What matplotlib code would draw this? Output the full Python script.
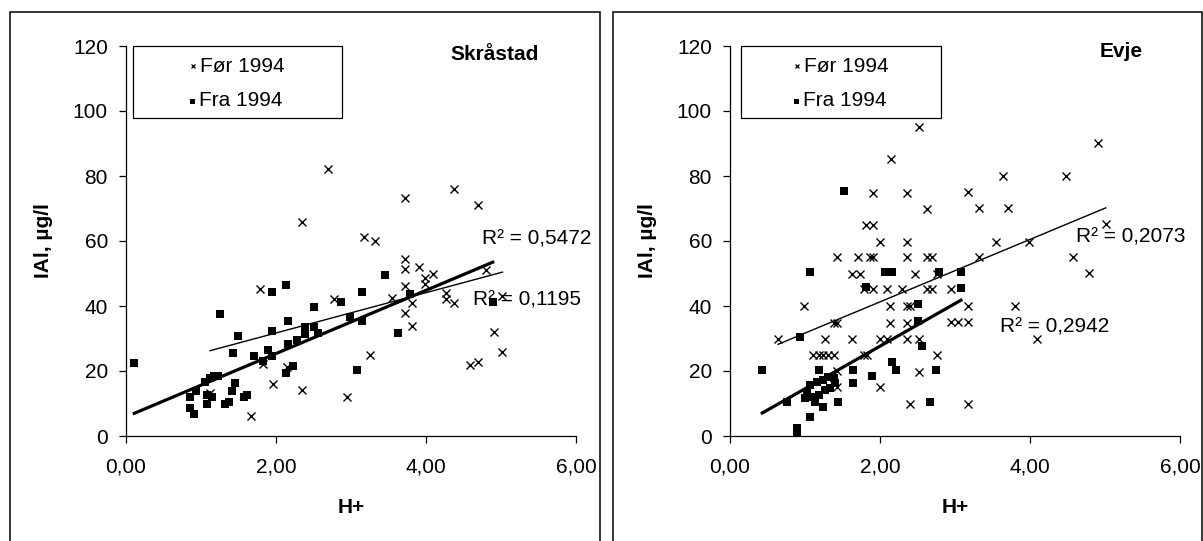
import matplotlib
matplotlib.use("Agg")
import matplotlib.pyplot as plt
import numpy as np
from matplotlib.patches import Rectangle

plt.rcParams['font.family'] = ['Liberation Sans', 'DejaVu Sans']

# ---- Skråstad ----
skr_for_x = [2.69, 2.35, 1.78, 2.77, 1.83, 2.14, 1.96, 2.35, 1.66, 2.95, 1.12,
             3.72, 4.37, 4.69, 3.17, 3.32, 3.72, 3.72, 3.90, 4.09, 3.99, 3.99,
             3.72, 3.55, 3.81, 4.27, 4.27, 4.37, 3.72, 3.81, 4.80, 5.02, 4.90,
             5.02, 4.58, 4.69, 3.25]
skr_for_y = [82.2, 65.8, 45.1, 42.2, 22.1, 21.3, 15.9, 14.3, 6.2, 12.1, 13.3,
             73.1, 76.1, 71.1, 61.1, 59.9, 54.4, 51.3, 52.1, 49.9, 48.5, 46.9,
             46.2, 42.4, 40.8, 43.9, 42.2, 40.8, 37.9, 33.9, 51.1, 43.1, 31.9,
             25.8, 21.8, 22.9, 25.0]
skr_fra_x = [0.11, 1.25, 1.94, 2.13, 2.50, 2.87, 2.99, 2.16, 1.94, 1.49, 1.43,
             1.71, 1.89, 1.94, 1.83, 2.16, 2.28, 2.39, 2.39, 2.50, 2.56, 2.13,
             2.22, 0.85, 0.85, 0.91, 0.93, 1.05, 1.12, 1.17, 1.22, 1.08, 1.14,
             1.08, 1.32, 1.37, 1.41, 1.45, 1.57, 1.61, 3.45, 3.15, 3.15, 3.79,
             4.89, 3.62, 3.08]
skr_fra_y = [22.6, 37.5, 44.4, 46.6, 39.7, 41.3, 36.7, 35.4, 32.4, 30.8, 25.5,
             24.7, 26.5, 24.7, 23.2, 28.4, 29.4, 33.6, 31.3, 33.6, 31.6, 19.5,
             21.5, 11.9, 8.5, 6.7, 13.7, 16.7, 17.9, 18.6, 18.6, 12.6, 11.9,
             9.8, 9.8, 10.6, 13.9, 16.2, 12.1, 12.6, 49.5, 44.4, 35.5, 43.6,
             41.3, 31.6, 20.3]
skr_for_fit = (6.2, 19.3)    # slope, intercept
skr_fra_fit = (9.73, 5.9)
skr_r2 = ["0,1195", "0,5472"]

# ---- Evje ----
evj_for_x = [2.15, 1.90, 2.36, 2.63, 1.81, 1.90, 2.00, 2.36, 1.42, 1.70, 1.86,
             1.91, 2.36, 2.62, 2.69, 1.63, 1.73, 2.47, 1.78, 1.90, 2.09, 2.29,
             2.62, 2.69, 0.98, 2.13, 2.36, 2.40, 1.38, 1.42, 2.13, 2.36, 0.64,
             1.27, 1.63, 2.00, 2.09, 2.36, 2.52, 1.11, 1.18, 1.24, 1.31, 1.38,
             1.78, 1.82, 2.76, 1.42, 2.52, 2.00, 1.42, 2.40,
             2.52, 4.90, 3.64, 4.48, 3.17, 3.32, 3.71, 3.54, 3.99, 5.01, 4.57,
             4.79, 3.32, 2.76, 2.95, 3.17, 3.80, 2.95, 3.04, 3.17, 4.09, 3.17]
evj_for_y = [85.1, 74.9, 74.9, 70.0, 64.9, 64.9, 59.8, 59.8, 55.0, 55.0, 55.0,
             55.0, 55.0, 55.0, 55.0, 50.0, 50.0, 50.0, 45.1, 45.1, 45.1, 45.1,
             45.1, 45.1, 40.0, 40.0, 40.0, 40.0, 34.9, 34.9, 34.9, 34.9, 30.0,
             30.0, 30.0, 30.0, 30.0, 30.0, 30.0, 25.0, 25.0, 25.0, 25.0, 25.0,
             25.0, 25.0, 25.0, 20.0, 19.8, 15.0, 15.0, 9.8,
             95.2, 90.1, 80.0, 80.0, 75.0, 70.2, 70.2, 59.8, 59.8, 65.1, 55.2,
             50.1, 55.0, 50.0, 45.2, 40.0, 40.0, 35.0, 35.0, 35.0, 30.0, 9.8]
evj_fra_x = [0.43, 0.76, 0.93, 0.89, 0.89, 1.06, 1.06, 1.52, 1.81, 2.06, 2.16,
             1.89, 1.64, 1.64, 1.44, 1.24, 1.19, 2.16, 2.21, 2.50, 2.50, 2.56,
             2.67, 2.75, 2.78, 3.08, 3.08, 1.07, 1.16, 1.24, 1.31, 1.38, 1.40,
             1.02, 1.09, 1.18, 1.27, 1.33, 1.00, 1.13]
evj_fra_y = [20.3, 10.6, 30.6, 2.4, 0.8, 50.4, 5.7, 75.4, 45.9, 50.4, 50.4,
             18.6, 20.3, 16.2, 10.6, 8.8, 20.3, 22.7, 20.3, 40.5, 35.4, 27.7,
             10.6, 20.3, 50.4, 50.4, 45.6, 15.7, 16.7, 17.2, 18.2, 17.7, 16.2,
             13.1, 12.1, 12.6, 14.2, 14.7, 11.6, 10.6]
evj_for_fit = (9.61, 22.05)
evj_fra_fit = (13.1, 1.44)
evj_r2 = ["0,2073", "0,2942"]

W, H = 1203, 541
FS = 15


def px_box(x0, x1, y_top, y_bot):
    return [x0 / W, 1 - y_bot / H, (x1 - x0) / W, (y_bot - y_top) / H]


def draw_panel(ax, name, name_pos, for_x, for_y, fra_x, fra_y,
               for_fit, fra_fit, r2, r2_pos, legend_x):
    ax.plot(for_x, for_y, 'x', color='black', ms=5.2, mew=1.0, clip_on=False)
    ax.plot(fra_x, fra_y, 's', color='black', ms=5.4, mew=0, clip_on=False)

    # trendlines over each series' range
    xs = np.array([min(for_x), max(for_x)])
    ax.plot(xs, for_fit[0] * xs + for_fit[1], color='black', lw=1.0)
    xs = np.array([min(fra_x), max(fra_x)])
    ax.plot(xs, fra_fit[0] * xs + fra_fit[1], color='black', lw=2.3)

    ax.set_xlim(0, 6)
    ax.set_ylim(0, 120)
    ax.set_xticks([0, 2, 4, 6])
    ax.set_xticklabels(["0,00", "2,00", "4,00", "6,00"])
    ax.set_yticks(range(0, 121, 20))
    for s in ['top', 'right']:
        ax.spines[s].set_visible(False)
    for s in ['left', 'bottom']:
        ax.spines[s].set_linewidth(0.9)
    ax.tick_params(axis='both', direction='out', length=5, width=0.9,
                   labelsize=FS)
    ax.tick_params(axis='x', pad=10.5)
    ax.tick_params(axis='y', pad=8)

    ax.text(-0.184, 0.5, "IAl, µg/l", transform=ax.transAxes, rotation=90,
            ha='center', va='center', fontsize=FS, fontweight='bold')
    ax.text(0.5, -0.183, "H+", transform=ax.transAxes, ha='center',
            va='center', fontsize=FS, fontweight='bold')
    ax.text(name_pos[0], name_pos[1], name, ha='center', va='center',
            fontsize=FS, fontweight='bold')

    for txt, (tx, ty) in zip(r2, r2_pos):
        ax.text(tx, ty, "R² = " + txt, ha='left', va='center', fontsize=FS,
                clip_on=False)

    # legend box
    lx0, lx1 = legend_x
    ax.add_patch(Rectangle((lx0, 97.8), lx1 - lx0, 22.2, fill=False,
                           ec='black', lw=0.9, clip_on=False, zorder=5))
    ax.plot([0.89], [113.8], 'x', color='black', ms=3, mew=0.9,
            clip_on=False, zorder=6)
    ax.plot([0.88], [103.2], 's', color='black', ms=3.6, mew=0,
            clip_on=False, zorder=6)
    ax.text(0.98, 113.8, "Før 1994", ha='left', va='center', fontsize=FS,
            zorder=6)
    ax.text(0.97, 103.2, "Fra 1994", ha='left', va='center', fontsize=FS,
            zorder=6)


fig = plt.figure(figsize=(W / 100, H / 100), dpi=100)

# chart area frames
for x0, x1 in [(9.5, 599.5), (613.3, 1201.5)]:
    fig.add_artist(Rectangle((x0 / W, -0.1), (x1 - x0) / W, 0.1 + 1 - 12 / H,
                             transform=fig.transFigure, fill=False,
                             ec='black', lw=1.1))

ax1 = fig.add_axes(px_box(126, 576, 46, 436))
draw_panel(ax1, "Skråstad", (4.91, 117.4), skr_for_x, skr_for_y,
           skr_fra_x, skr_fra_y, skr_for_fit, skr_fra_fit, skr_r2,
           [(4.63, 41.8), (4.74, 60.6)], (0.09, 2.88))

ax2 = fig.add_axes(px_box(730, 1180, 46, 436))
draw_panel(ax2, "Evje", (5.21, 118.4), evj_for_x, evj_for_y,
           evj_fra_x, evj_fra_y, evj_for_fit, evj_fra_fit, evj_r2,
           [(4.62, 61.3), (3.60, 33.4)], (0.14, 2.81))

fig.savefig("out.png", dpi=100)
